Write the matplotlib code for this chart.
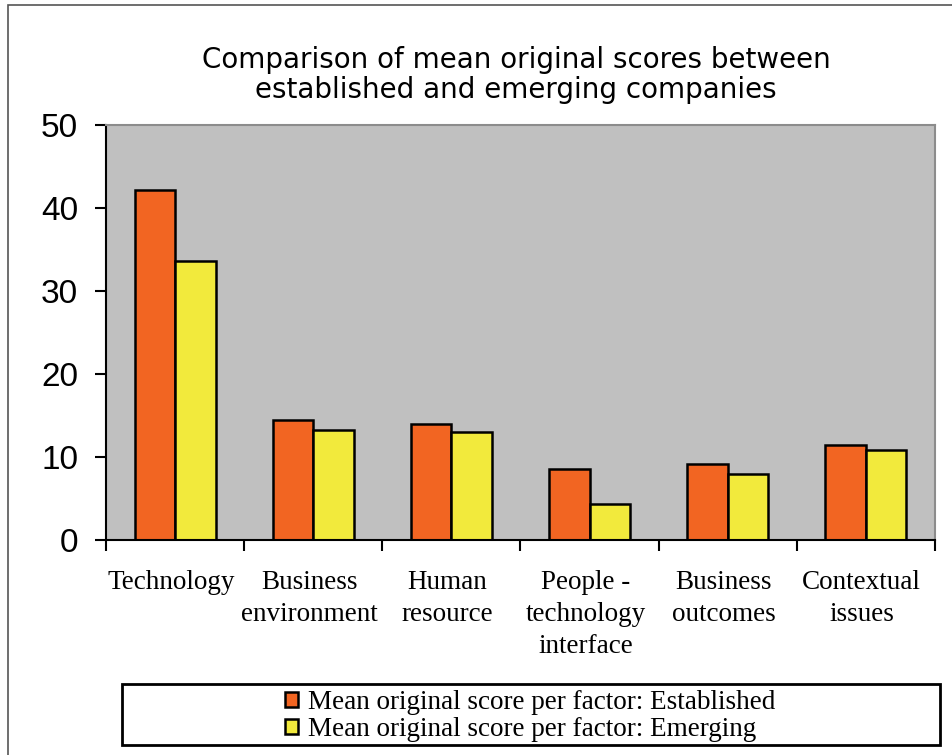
import matplotlib.pyplot as plt
from matplotlib.patches import Rectangle
import numpy as np

categories = ["Technology", "Business\nenvironment", "Human\nresource",
              "People -\ntechnology\ninterface", "Business\noutcomes", "Contextual\nissues"]
established = [42.2, 14.5, 14.0, 8.6, 9.2, 11.5]
emerging = [33.6, 13.3, 13.0, 4.3, 8.0, 10.8]
series_labels = ["Mean original score per factor: Established",
                 "Mean original score per factor: Emerging"]
yticks = [0, 10, 20, 30, 40, 50]

ORANGE = "#F26522"
YELLOW = "#F2EA3C"
GREY_BG = "#C0C0C0"

SANS_NARROW = ["Liberation Sans Narrow", "DejaVu Sans"]
SERIF = ["Liberation Serif", "DejaVu Serif"]

fig = plt.figure(figsize=(9.53, 7.55), dpi=100)
ax = fig.add_axes([106 / 953, 1 - 540 / 755, (935 - 106) / 953, (540 - 125) / 755])
ax.set_facecolor(GREY_BG)

x = np.arange(len(categories)) + 0.5
w = 0.293
b1 = ax.bar(x - w / 2, established, w, color=ORANGE, edgecolor="black", linewidth=1.8,
            label=series_labels[0])
b2 = ax.bar(x + w / 2, emerging, w, color=YELLOW, edgecolor="black", linewidth=1.8,
            label=series_labels[1])

ax.set_xlim(0, len(categories))
ax.set_ylim(0, 50)
ax.set_yticks(yticks)
ax.set_yticklabels([str(t) for t in yticks], family=["Liberation Sans", "DejaVu Sans"], fontsize=24)
ax.tick_params(axis="y", direction="out", length=8, width=1.5, pad=12)

# category labels between boundary ticks
ax.set_xticks(np.arange(len(categories) + 1))
ax.set_xticklabels([])
ax.tick_params(axis="x", direction="out", length=8, width=1.5)
for xi, lab in zip(x - 0.03, categories):
    ax.text(xi, -3.6, lab, ha="center", va="top", family=SERIF, fontsize=19.5,
            linespacing=1.38, transform=ax.transData)

for s in ["left", "bottom"]:
    ax.spines[s].set_linewidth(1.5)
    ax.spines[s].set_color("black")
for s in ["top", "right"]:
    ax.spines[s].set_linewidth(1.5)
    ax.spines[s].set_color("#8c8c8c")

fig.text(516 / 953, 1 - 75 / 755,
         "Comparison of mean original scores between\nestablished and emerging companies",
         ha="center", va="center", family=SANS_NARROW, fontsize=20, linespacing=1.05)

# legend box
fig.patches.append(Rectangle((122 / 953, 1 - 745 / 755), (940 - 122) / 953, 61 / 755,
                             transform=fig.transFigure, facecolor="white",
                             edgecolor="black", linewidth=2))
fig.legend(handles=[b1, b2], labels=series_labels, loc="center left",
           bbox_to_anchor=(271 / 953, 1 - 716 / 755), frameon=False,
           prop={"family": SERIF, "size": 19.5}, handlelength=0.5, handleheight=0.5,
           handletextpad=0.35, labelspacing=0.08, borderpad=0)

# outer frame
fig.patches.append(Rectangle((8 / 953, -0.01), 1.0, 1 - 5 / 755 + 0.01,
                             transform=fig.transFigure, facecolor="none",
                             edgecolor="#555555", linewidth=1.2))

fig.savefig("out.png", dpi=100)
